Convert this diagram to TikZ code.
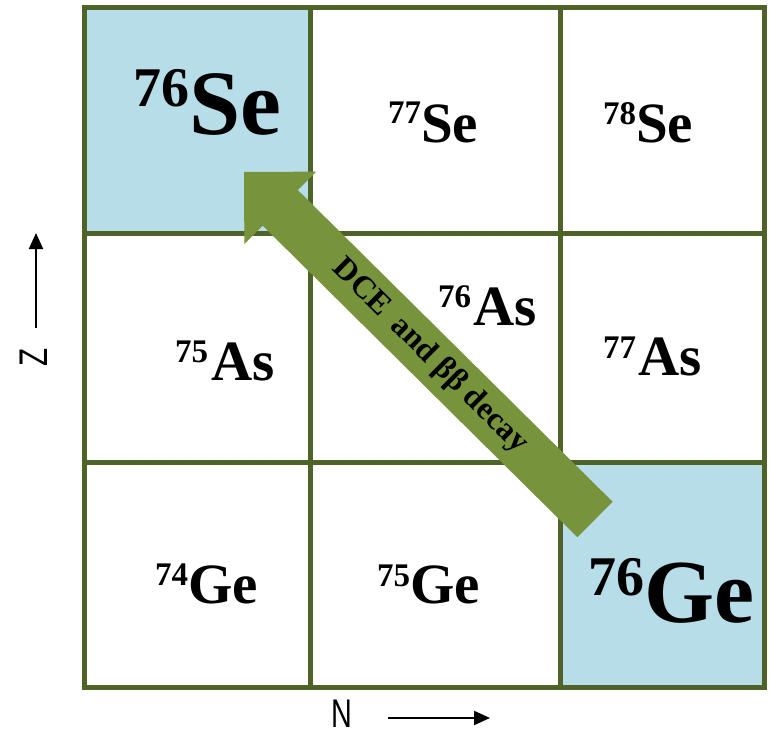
\documentclass[tikz,border=0pt]{standalone}
\usepackage{fontspec}
\setmainfont{Liberation Serif}
\newfontfamily\axisfont{Liberation Sans}
\usetikzlibrary{arrows.meta,calc}
\definecolor{gridgreen}{HTML}{4F6228}
\definecolor{arrowgreen}{HTML}{77933C}
\definecolor{cellblue}{HTML}{B7DDE8}
\newcommand{\isolabel}[5]{{\bfseries{\fontsize{#1}{#1}\selectfont\raisebox{#2pt}{#4}}{\fontsize{#3}{#3}\selectfont #5}}}
\begin{document}
\begin{tikzpicture}[x=1pt,y=-1pt,
  iso/.style={anchor=base west, inner sep=0pt},
  gridline/.style={draw=gridgreen, line width=5pt, line join=miter},
  axarrow/.style={draw=black, line width=2pt, -{Triangle[length=16pt,width=14pt]}},
  axlabel/.style={inner sep=0pt, font=\axisfont\fontsize{40}{40}\selectfont}]
\useasboundingbox (0,0) rectangle (769,733);
% highlighted cells
\fill[cellblue] (84,8) rectangle (310,233);
\fill[cellblue] (560,462) rectangle (764,687);
% grid
\draw[gridline] (84,8) rectangle (764,687);
\draw[gridline] (310,8) -- (310,687);
\draw[gridline] (560,8) -- (560,687);
\draw[gridline] (84,233) -- (764,233);
\draw[gridline] (84,462) -- (764,462);
% big arrow
\coordinate (tail) at (595,519.5);
\coordinate (tip) at (244,172);
\coordinate (hb) at ($(tip)!51pt!(tail)$);
\fill[arrowgreen] ($(tail)!25pt!90:(tip)$) -- ($(hb)!25pt!90:(tip)$) -- ($(hb)!51pt!90:(tip)$) -- (tip)
  -- ($(hb)!51pt!-90:(tip)$) -- ($(hb)!25pt!-90:(tip)$) -- ($(tail)!25pt!-90:(tip)$) -- cycle;
\node[rotate=-44.7, inner sep=0pt, font=\bfseries\fontsize{32}{32}\selectfont] (dce) at ($(tip)!0.53!(tail)$) {DCE\hspace{0.2em} and ββ decay};
% labels
\node[iso] (se76) at (133,135) {\isolabel{56}{28}{92}{76}{Se}};
\node[iso] (se77) at (388,143) {\isolabel{33}{20}{57}{77}{Se}};
\node[iso] (se78) at (603,143) {\isolabel{33}{18}{57}{78}{Se}};
\node[iso] (as75) at (175,380) {\isolabel{33}{18}{57}{75\hspace{3pt}}{As}};
\node[iso] (as76) at (438,325) {\isolabel{33}{18}{57}{76\hspace{2pt}}{As}};
\node[iso] (as77) at (603,375) {\isolabel{33}{17}{57}{77\hspace{2pt}}{As}};
\node[iso] (ge74) at (155,603) {\isolabel{33}{18}{57}{74}{Ge}};
\node[iso] (ge75) at (377,603) {\isolabel{33}{17}{57}{75}{Ge}};
\node[iso] (ge76) at (588,622) {\isolabel{56}{27}{90}{76}{Ge}};
% axes
\coordinate (zs) at (36,328);
\coordinate (ze) at (36,233);
\draw[axarrow] (zs) -- (ze);
\node[axlabel, rotate=90] (zl) at (34,357) {\scalebox{0.74}[1]{Z}};
\coordinate (ns) at (388,718);
\coordinate (ne) at (490,718);
\draw[axarrow] (ns) -- (ne);
\node[axlabel] (nl) at (342,714) {\scalebox{0.72}[1]{N}};
\end{tikzpicture}
\end{document}
